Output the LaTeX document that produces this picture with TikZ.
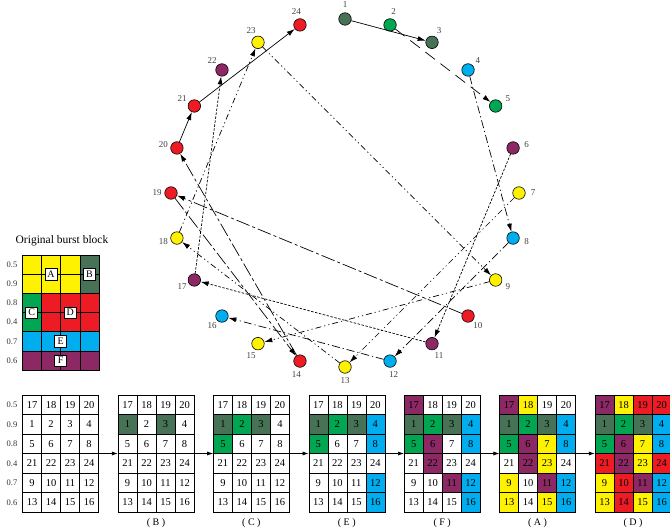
\documentclass[tikz,border=0pt]{standalone}
\usepackage{fontspec}
\setmainfont{Liberation Serif}
\usetikzlibrary{arrows.meta}
\definecolor{cdg}{RGB}{72,114,86}
\definecolor{cg}{RGB}{0,166,81}
\definecolor{cb}{RGB}{0,174,239}
\definecolor{cp}{RGB}{140,40,100}
\definecolor{cy}{RGB}{255,242,0}
\definecolor{cr}{RGB}{237,28,36}
\tikzset{
  dot/.style={circle, draw=black, line width=0.6pt, minimum size=12.5pt, inner sep=0pt},
  numlab/.style={font=\fontsize{9}{9}\selectfont, text=black!75, inner sep=0pt},
  cell/.style={draw=black, line width=0.6pt, minimum width=19pt, minimum height=19.5pt, inner sep=0pt, font=\fontsize{10.5}{10.5}\selectfont},
  ocell/.style={draw=black, line width=0.6pt, minimum width=19.3pt, minimum height=19.2pt, inner sep=0pt},
  tag/.style={draw=black, fill=white, line width=0.6pt, minimum width=12pt, minimum height=11.5pt, inner sep=0pt, font=\fontsize{10}{10}\selectfont},
  rowlab/.style={font=\fontsize{8.5}{8.5}\selectfont, text=black!80, inner sep=0pt},
  capt/.style={font=\fontsize{10}{10}\selectfont, inner sep=0pt},
  conn/.style={line width=0.7pt, -{Latex[length=8pt,width=5pt]}},
  esolid/.style={conn},
  egreen/.style={conn, dash pattern=on 12pt off 7pt},
  eblue/.style={conn, dash pattern=on 8pt off 3pt on 1.2pt off 3pt},
  epurple/.style={conn, dash pattern=on 2.5pt off 1.5pt},
  eyellow/.style={conn, dash pattern=on 6pt off 3pt on 1.2pt off 3pt on 1.2pt off 3pt},
  ered/.style={conn, dash pattern=on 14pt off 3pt on 3pt off 3pt},
  garrow/.style={line width=0.6pt, -{Latex[length=6pt,width=4pt]}}
}
\begin{document}
\begin{tikzpicture}[x=1pt,y=-1pt]
\useasboundingbox (0,0) rectangle (670,529);

% circle of nodes
\foreach \k/\c in {1/cdg,2/cg,3/cdg,4/cb,5/cg,6/cp,7/cy,8/cb,9/cy,10/cr,11/cp,12/cb,13/cy,14/cr,15/cy,16/cb,17/cp,18/cy,19/cr,20/cr,21/cr,22/cp,23/cy,24/cr}{
  \pgfmathsetmacro\ang{-90+15*(\k-1)}
  \node[dot, fill=\c] (n\k) at ({345+174*cos(\ang)},{193+174*sin(\ang)}) {};
  \node[numlab] (l\k) at ({345+188*cos(\ang)},{193+188*sin(\ang)}) {\k};
}

% connectors
\draw[esolid] (n1) -- (n3);
\draw[egreen] (n2) -- (n5);
\draw[eblue] (n4) -- (n8);
\draw[eblue] (n8) -- (n12);
\draw[eblue] (n12) -- (n16);
\draw[epurple] (n6) -- (n11);
\draw[epurple] (n11) -- (n17);
\draw[epurple] (n17) -- (n22);
\draw[eyellow] (n7) -- (n13);
\draw[eyellow] (n13) -- (n18);
\draw[eyellow] (n18) -- (n23);
\draw[eyellow] (n23) -- (n9);
\draw[eyellow] (n9) -- (n15);
\draw[ered] (n10) -- (n19);
\draw[ered] (n19) -- (n14);
\draw[ered] (n14) -- (n20);
\draw[esolid] (n20) -- (n21);
\draw[esolid] (n21) -- (n24);

% original burst block
\node[font=\fontsize{11.5}{11.5}\selectfont, inner sep=0pt] (title) at (62,241) {Original burst block};
\foreach \r/\cols in {1/{cy,cy,cy,cdg},2/{cy,cy,cy,cdg},3/{cg,cr,cr,cr},4/{cg,cr,cr,cr},5/{cb,cb,cb,cb},6/{cp,cp,cp,cp}}{
  \foreach \col [count=\c] in \cols {
    \node[ocell, fill=\col] (o\r-\c) at ({22+19.3*(\c-0.5)},{255+19.2*(\r-0.5)}) {};
  }
}
\node[tag] (tA) at (50.95,274.2) {A};
\node[tag] (tB) at (89.55,274.2) {B};
\node[tag] (tC) at (31.65,312.6) {C};
\node[tag] (tD) at (70.25,312.6) {D};
\node[tag] (tE) at (60.6,341.4) {E};
\node[tag] (tF) at (60.6,360.6) {F};

% row labels
\foreach \v [count=\r] in {0.5,0.9,0.8,0.4,0.7,0.6}{
  \node[rowlab] (br\r) at (12,{395+19.5*(\r-0.5)}) {\v};
  \node[rowlab] (or\r) at (12,{255+19.2*(\r-0.5)}) {\v};
}

% bottom grids
\foreach \n/\r/\c/\col/\st in {17/1/1/cp/4,18/1/2/cy/5,19/1/3/cr/6,20/1/4/cr/6,
1/2/1/cdg/1,2/2/2/cg/2,3/2/3/cdg/1,4/2/4/cb/3,
5/3/1/cg/2,6/3/2/cp/4,7/3/3/cy/5,8/3/4/cb/3,
21/4/1/cr/6,22/4/2/cp/4,23/4/3/cy/5,24/4/4/cr/6,
9/5/1/cy/5,10/5/2/cr/6,11/5/3/cp/4,12/5/4/cb/3,
13/6/1/cy/5,14/6/2/cr/6,15/6/3/cy/5,16/6/4/cb/3}{
  \foreach \g in {0,...,6}{
    \ifnum\g<\st\relax\def\fc{white}\else\edef\fc{\col}\fi
    \node[cell, fill=\fc] (c\g-\n) at ({22.6+95.4*\g+19*(\c-0.5)},{395+19.5*(\r-0.5)}) {\n};
  }
}
\foreach \g in {0,...,6}{
  \node[inner sep=0pt, minimum width=76pt, minimum height=117pt] (G\g) at ({22.6+95.4*\g+38},453.5) {};
}
\foreach \a/\b in {0/1,1/2,2/3,3/4,4/5,5/6}{
  \draw[garrow] (G\a.east) -- (G\b.west);
}
\foreach \g/\t in {1/B,2/C,3/E,4/F,5/A,6/D}{
  \node[capt] (cap\t) at ({22.6+95.4*\g+38},523) {( \t\ )};
}
\end{tikzpicture}
\end{document}
